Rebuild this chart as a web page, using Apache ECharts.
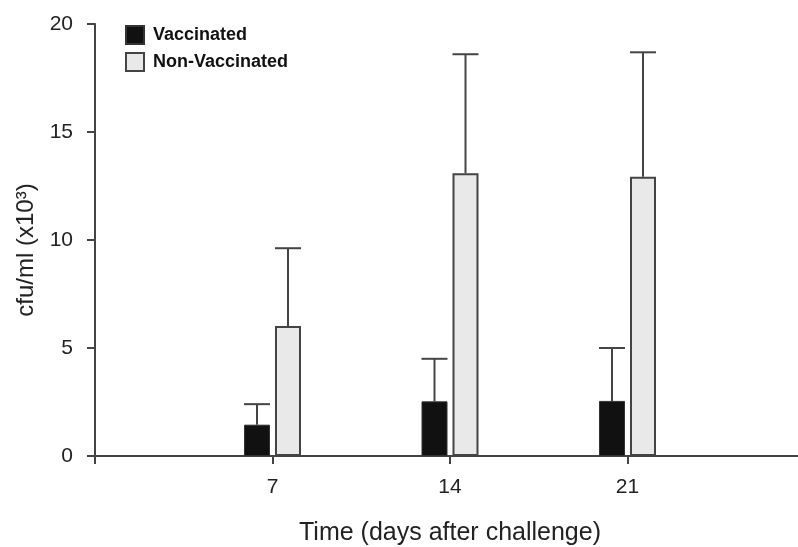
<!DOCTYPE html>
<html>
<head>
<meta charset="utf-8">
<script src="https://cdn.jsdelivr.net/npm/echarts@6/dist/echarts.min.js"></script>
<style>html,body{margin:0;padding:0;background:#fff;}#chart{width:798px;height:547px;}</style>
</head>
<body>
<div id="chart"></div>
<script>
// Data
const days = ['0', '7', '14', '21', '28'];
const shownDays = ['7', '14', '21'];
const vaccinated = [null, 1.45, 2.53, 2.55, null];
const vaccinatedUpper = [null, 2.4, 4.5, 5.0, null];
const nonVaccinated = [null, 6.02, 13.09, 12.93, null];
const nonVaccinatedUpper = [null, 9.62, 18.6, 18.69, null];
const yTicks = [0, 5, 10, 15, 20];

const BAR_W = 26;
const GAP = 5;
const OFF = (BAR_W + GAP) / 2;

function errData(vals, upper) {
  const out = [];
  vals.forEach((v, i) => { if (v != null) out.push([i, v, upper[i]]); });
  return out;
}
function errRender(offset) {
  return function (params, api) {
    const b = api.coord([api.value(0), api.value(1)]);
    const t = api.coord([api.value(0), api.value(2)]);
    const x = b[0] + offset;
    const st = { stroke: '#444', lineWidth: 2 };
    return {
      type: 'group',
      children: [
        { type: 'line', shape: { x1: x, y1: b[1], x2: x, y2: t[1] }, style: st },
        { type: 'line', shape: { x1: x - BAR_W / 2, y1: t[1], x2: x + BAR_W / 2, y2: t[1] }, style: st }
      ]
    };
  };
}

const chart = echarts.init(document.getElementById('chart'));
chart.setOption({
  animation: false,
  backgroundColor: '#fff',
  textStyle: { fontFamily: 'Liberation Sans, Arial, sans-serif' },
  legend: {
    data: ['Vaccinated', 'Non-Vaccinated'],
    orient: 'vertical',
    left: 120,
    top: 20,
    itemWidth: 18,
    itemHeight: 18,
    itemGap: 7,
    icon: 'rect',
    textStyle: { fontSize: 18, fontWeight: 'bold', color: '#111', padding: [0, 0, 0, 4] }
  },
  grid: { left: 95, top: 24, bottom: 91, width: 710, outerBoundsMode: 'none', containLabel: false },
  xAxis: {
    type: 'category',
    data: days,
    boundaryGap: false,
    name: 'Time (days after challenge)',
    nameLocation: 'middle',
    nameGap: 65,
    nameTextStyle: { fontSize: 25, color: '#222' },
    axisLine: { lineStyle: { color: '#444', width: 2 } },
    axisTick: { show: true, length: 8, lineStyle: { color: '#444', width: 2 },
      interval: (i, v) => v !== '28' },
    axisLabel: {
      fontSize: 21, color: '#222', margin: 21,
      interval: 0,
      formatter: v => shownDays.indexOf(v) >= 0 ? v : ''
    },
    splitLine: { show: false }
  },
  yAxis: {
    type: 'value',
    min: yTicks[0],
    max: yTicks[yTicks.length - 1],
    interval: 5,
    name: 'cfu/ml (x10³)',
    nameLocation: 'middle',
    nameGap: 56,
    nameTextStyle: { fontSize: 24, color: '#222', padding: [0, 20, 0, 0] },
    axisLine: { show: true, lineStyle: { color: '#444', width: 2 } },
    axisTick: { show: true, length: 8, lineStyle: { color: '#444', width: 2 } },
    axisLabel: { fontSize: 21, color: '#222', margin: 22 },
    splitLine: { show: false }
  },
  series: [
    {
      name: 'Vaccinated',
      type: 'bar',
      data: vaccinated,
      barWidth: BAR_W,
      barGap: (GAP / BAR_W * 100).toFixed(1) + '%',
      itemStyle: { color: '#111', borderColor: '#333', borderWidth: 1 }
    },
    {
      name: 'Non-Vaccinated',
      type: 'bar',
      data: nonVaccinated,
      barWidth: BAR_W,
      itemStyle: { color: '#e9e9e9', borderColor: '#444', borderWidth: 2 }
    },
    {
      name: 'errV',
      type: 'custom',
      data: errData(vaccinated, vaccinatedUpper),
      renderItem: errRender(-OFF),
      encode: { x: 0, y: [1, 2] },
      z: 3
    },
    {
      name: 'errNV',
      type: 'custom',
      data: errData(nonVaccinated, nonVaccinatedUpper),
      renderItem: errRender(OFF),
      encode: { x: 0, y: [1, 2] },
      z: 3
    }
  ]
});
</script>
</body>
</html>
